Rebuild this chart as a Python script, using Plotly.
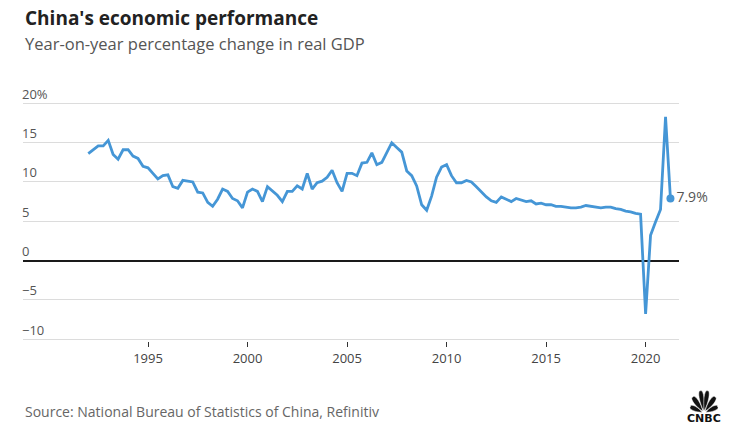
import math
import plotly.graph_objects as go
import pandas as pd

# Quarterly real GDP growth, year-on-year %, 1992 Q1 .. 2021 Q2
start_quarter = "1992-01-01"
gdp_growth = [
    13.6, 14.1, 14.6, 14.6,   # 1992
    15.3, 13.5, 12.9, 14.1,   # 1993
    14.1, 13.3, 13.0, 12.0,   # 1994
    11.8, 11.1, 10.4, 10.8,   # 1995
    10.9, 9.4, 9.2, 10.2,     # 1996
    10.1, 10.0, 8.7, 8.6,     # 1997
    7.4, 6.9, 7.8, 9.1,       # 1998
    8.8, 7.9, 7.6, 6.7,       # 1999
    8.7, 9.1, 8.8, 7.5,       # 2000
    9.4, 8.8, 8.3, 7.5,       # 2001
    8.8, 8.8, 9.5, 9.1,       # 2002
    11.1, 9.1, 9.9, 10.1,     # 2003
    10.6, 11.5, 9.9, 8.8,     # 2004
    11.1, 11.1, 10.8, 12.4,   # 2005
    12.5, 13.7, 12.2, 12.5,   # 2006
    13.8, 15.0, 14.4, 13.8,   # 2007
    11.4, 10.8, 9.5, 7.1,     # 2008
    6.4, 8.2, 10.6, 11.9,     # 2009
    12.2, 10.8, 9.9, 9.9,     # 2010
    10.2, 10.0, 9.4, 8.7,     # 2011
    8.1, 7.6, 7.4, 8.1,       # 2012
    7.8, 7.5, 7.9, 7.7,       # 2013
    7.5, 7.6, 7.2, 7.3,       # 2014
    7.1, 7.1, 6.9, 6.9,       # 2015
    6.8, 6.7, 6.7, 6.8,       # 2016
    7.0, 6.9, 6.8, 6.7,       # 2017
    6.8, 6.8, 6.6, 6.5,       # 2018
    6.3, 6.2, 6.0, 5.9,       # 2019
    -6.8, 3.2, 4.9, 6.5,      # 2020
    18.3, 7.9,                # 2021
]
y_tick_values = [-10, -5, 0, 5, 10, 15, 20]
y_tick_labels = ["\u221210", "\u22125", "0", "5", "10", "15", "20%"]
x_tick_years = [1995, 2000, 2005, 2010, 2015, 2020]
last_label = "7.9%"

dates = pd.date_range(start_quarter, periods=len(gdp_growth), freq="QS")

FONT = "Open Sans"
BLUE = "#4596d6"
W, H = 743, 443
ML, MR, MT, MB = 23, 64, 83, 102

fig = go.Figure()
fig.add_trace(go.Scatter(
    x=dates, y=gdp_growth, mode="lines",
    line=dict(color=BLUE, width=2.8),
    hoverinfo="skip", showlegend=False,
))
fig.add_trace(go.Scatter(
    x=[dates[-1]], y=[gdp_growth[-1]], mode="markers+text",
    marker=dict(color=BLUE, size=8),
    text=[last_label], textposition="middle right",
    textfont=dict(family=FONT, size=14, color="#555555"),
    hoverinfo="skip", showlegend=False, cliponaxis=False,
))

fig.update_layout(
    width=W, height=H,
    margin=dict(l=ML, r=MR, t=MT, b=MB),
    paper_bgcolor="white", plot_bgcolor="white",
    font=dict(family=FONT, color="#555555"),
    xaxis=dict(
        type="date",
        range=["1988-09-20", "2021-09-05"],
        tickvals=[f"{y}-01-01" for y in x_tick_years],
        ticktext=[str(y) for y in x_tick_years],
        ticks="outside", ticklen=5, tickwidth=1, tickcolor="#333333",
        showgrid=False, showline=False, zeroline=False,
        tickfont=dict(family=FONT, size=13, color="#444444"),
    ),
    yaxis=dict(
        range=[-10.25, 22.6],
        tickvals=y_tick_values, ticktext=y_tick_labels,
        ticklabelposition="inside top", ticklabelstandoff=-4,
        tickfont=dict(family=FONT, size=13, color="#555555"),
        showgrid=True, gridcolor="#dcdcdc", gridwidth=1,
        zeroline=True, zerolinecolor="#1a1a1a", zerolinewidth=2,
        showline=False, ticks="",
    ),
)

ph = H - MT - MB
pw = W - ML - MR


def px(x):
    return (x - ML) / pw


def py(y):
    return (H - MB - y) / ph


def ann(text, x, y, size, color, family=FONT, xanchor="left"):
    return dict(text=text, xref="paper", yref="paper", x=px(x), y=py(y),
                xanchor=xanchor, yanchor="middle", showarrow=False,
                font=dict(family=family, size=size, color=color))


fig.update_layout(annotations=[
    ann("<b>China's economic performance</b>", 23, 18, 19, "#222222"),
    ann("Year-on-year percentage change in real GDP", 23, 44, 16.5, "#555555"),
    ann("Source: National Bureau of Statistics of China, Refinitiv", 23, 411, 14, "#666666"),
    ann("<b>CNBC</b>", 703.5, 418, 11, "#111111", family="DejaVu Sans", xanchor="center"),
])

# simple peacock emblem above the CNBC wordmark
cx, cy = 704, 413
shapes = []
for ang, length, width in [(155, 15, 5.5), (125, 19.5, 6), (99, 22.5, 5.5),
                           (81, 22.5, 5.5), (55, 19.5, 6), (25, 15, 5.5)]:
    a = math.radians(ang)
    dx, dy = math.cos(a), -math.sin(a)
    nx, ny = math.sin(a), math.cos(a)
    bx, by = cx + dx * 2, cy + dy * 2
    tx, ty = cx + dx * length, cy + dy * length
    mx, my = cx + dx * length * 0.55, cy + dy * length * 0.55
    w = width / 2
    c1 = (mx + nx * w * 1.2, my + ny * w * 1.2)
    c2 = (tx + nx * w * 1.1 + dx * 1.5, ty + ny * w * 1.1 + dy * 1.5)
    c3 = (tx - nx * w * 1.1 + dx * 1.5, ty - ny * w * 1.1 + dy * 1.5)
    c4 = (mx - nx * w * 1.2, my - ny * w * 1.2)
    path = (f"M {px(bx)},{py(by)} "
            f"C {px(c1[0])},{py(c1[1])} {px(c2[0])},{py(c2[1])} {px(tx)},{py(ty)} "
            f"C {px(c3[0])},{py(c3[1])} {px(c4[0])},{py(c4[1])} {px(bx)},{py(by)} Z")
    shapes.append(dict(type="path", xref="paper", yref="paper", path=path,
                       fillcolor="#111111", line=dict(width=0.5, color="white")))
fig.update_layout(shapes=shapes)

fig.write_html("out.html")
